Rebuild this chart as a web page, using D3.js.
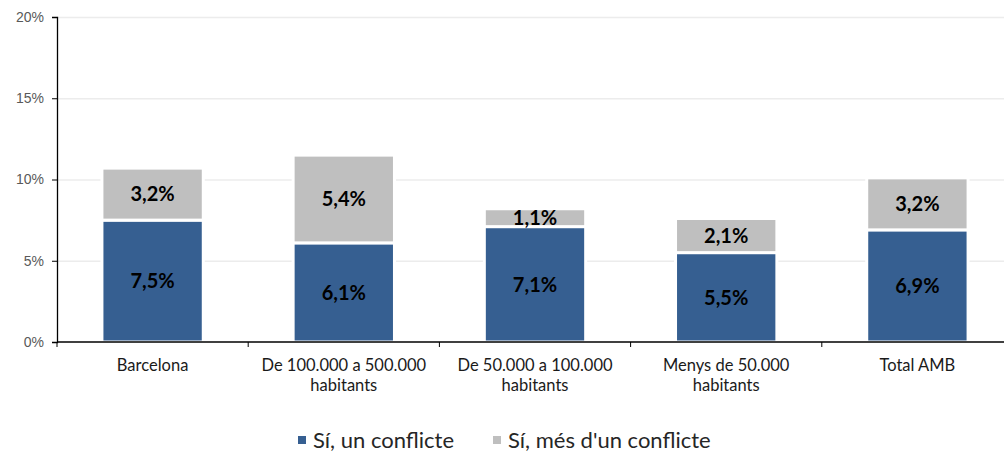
<!DOCTYPE html>
<html>
<head>
<meta charset="utf-8">
<script src="https://cdn.jsdelivr.net/npm/d3@7"></script>
<style>
  body { margin: 0; background: #fff; }
  svg { display: block; }
</style>
</head>
<body>
<div class="chart"></div>
<script>
'use strict';

// Data
var categories = ['Barcelona', 'De 100.000 a 500.000 habitants', 'De 50.000 a 100.000 habitants',
                  'Menys de 50.000 habitants', 'Total AMB'];
var unConflicte  = [7.5, 6.1, 7.1, 5.5, 6.9];
var mesConflicte = [3.2, 5.4, 1.1, 2.1, 3.2];
var yTicks = [0, 5, 10, 15, 20];
var seriesNames = ['Sí, un conflicte', "Sí, més d'un conflicte"];
var colors = ['#365f91', '#bfbfbf'];

var width  = 1004,
    height = 452;
var margin = {top: 17, left: 57, bottom: 110};

var svg = d3.select('.chart')
  .append('svg')
  .attr('width', width)
  .attr('height', height);

var x = d3.scaleBand()
  .domain(categories)
  .range([margin.left, margin.left + 5 * 191.2])
  .paddingInner(0.47)
  .paddingOuter(0.235);

var y = d3.scaleLinear()
  .domain([0, 20])
  .range([height - margin.bottom, margin.top]);

// Gridlines
svg.append('g')
  .selectAll('line')
  .data(yTicks.slice(1))
  .enter().append('line')
    .attr('x1', margin.left)
    .attr('x2', width)
    .attr('y1', function(d) { return y(d) + 0.5; })
    .attr('y2', function(d) { return y(d) + 0.5; })
    .style('stroke', '#ececec')
    .style('stroke-width', 1.5);

// Stacked data
var stacked = categories.map(function(c, i) {
  return [
    {cat: c, y0: 0, y1: unConflicte[i], v: unConflicte[i], s: 0},
    {cat: c, y0: unConflicte[i], y1: unConflicte[i] + mesConflicte[i], v: mesConflicte[i], s: 1}
  ];
});
var segs = d3.merge(stacked);

svg.append('g')
  .selectAll('rect')
  .data(segs)
  .enter().append('rect')
    .attr('x', function(d) { return x(d.cat); })
    .attr('width', x.bandwidth())
    .attr('y', function(d) { return y(d.y1); })
    .attr('height', function(d) { return y(d.y0) - y(d.y1); })
    .style('fill', function(d) { return colors[d.s]; })
    .style('stroke', '#ffffff')
    .style('stroke-width', 3);

// Value labels
svg.append('g')
  .selectAll('text')
  .data(segs)
  .enter().append('text')
    .attr('x', function(d) { return x(d.cat) + x.bandwidth() / 2; })
    .attr('y', function(d) { return (y(d.y0) + y(d.y1)) / 2; })
    .attr('dy', '0.36em')
    .attr('text-anchor', 'middle')
    .style('font-family', 'Lato, "Open Sans", sans-serif')
    .style('font-weight', 'bold')
    .style('font-size', '20px')
    .style('fill', '#000')
    .text(function(d) { return d.v.toFixed(1).replace('.', ',') + '%'; });

// Y axis
var yAxis = svg.append('g')
  .attr('transform', 'translate(' + margin.left + ',0)')
  .call(d3.axisLeft(y).tickValues(yTicks).tickSize(5).tickPadding(8)
    .tickFormat(function(d) { return d + '%'; }));
yAxis.select('.domain').style('stroke', '#000').style('stroke-width', 1.3);
yAxis.selectAll('.tick line').style('stroke', '#000');
yAxis.selectAll('text')
  .style('font-family', '"Liberation Sans", Arial, sans-serif')
  .style('font-size', '14px')
  .style('fill', '#595959');

// X axis
var x0 = y(0);
var xAxis = svg.append('g').attr('class', 'xaxis');
xAxis.append('line')
  .attr('x1', margin.left).attr('x2', width)
  .attr('y1', x0).attr('y2', x0)
  .style('stroke', '#000').style('stroke-width', 1.3);
xAxis.selectAll('.xt')
  .data(categories)
  .enter().append('line')
    .attr('class', 'xt')
    .attr('x1', function(d) { return x(d) - x.step() * x.paddingInner() / 2; })
    .attr('x2', function(d) { return x(d) - x.step() * x.paddingInner() / 2; })
    .attr('y1', x0).attr('y2', x0 + 5)
    .style('stroke', '#000');

var catText = xAxis.selectAll('.xl')
  .data(categories)
  .enter().append('text')
    .attr('class', 'xl')
    .attr('x', function(d) { return x(d) + x.bandwidth() / 2; })
    .attr('y', x0 + 29)
    .attr('text-anchor', 'middle')
    .style('font-family', 'Lato, "Open Sans", sans-serif')
    .style('font-size', '16.5px')
    .style('fill', '#1a1a1a');

catText.each(function(d) {
  var el = d3.select(this);
  var words = d.split(' ');
  var lines = [], line = [];
  words.forEach(function(w) {
    var trial = line.concat([w]).join(' ');
    var t = el.append('tspan').text(trial);
    var w2 = t.node().getComputedTextLength();
    t.remove();
    if (w2 > 180 && line.length) { lines.push(line.join(' ')); line = [w]; }
    else line.push(w);
  });
  lines.push(line.join(' '));
  lines.forEach(function(l, i) {
    el.append('tspan')
      .attr('x', x(d) + x.bandwidth() / 2)
      .attr('dy', i === 0 ? 0 : 20)
      .text(l);
  });
});

// Legend
var legendX = [298, 493];
var legend = svg.append('g').selectAll('g')
  .data(seriesNames)
  .enter().append('g')
    .attr('transform', function(d, i) { return 'translate(' + legendX[i] + ',440)'; });
legend.append('rect')
  .attr('x', 0).attr('y', -4)
  .attr('width', 8).attr('height', 8)
  .style('fill', function(d, i) { return colors[i]; });
legend.append('text')
  .attr('x', 15)
  .attr('dy', '0.36em')
  .style('font-family', 'Lato, "Open Sans", sans-serif')
  .style('font-size', '22px')
  .style('fill', '#262626')
  .text(function(d) { return d; });
</script>
</body>
</html>
